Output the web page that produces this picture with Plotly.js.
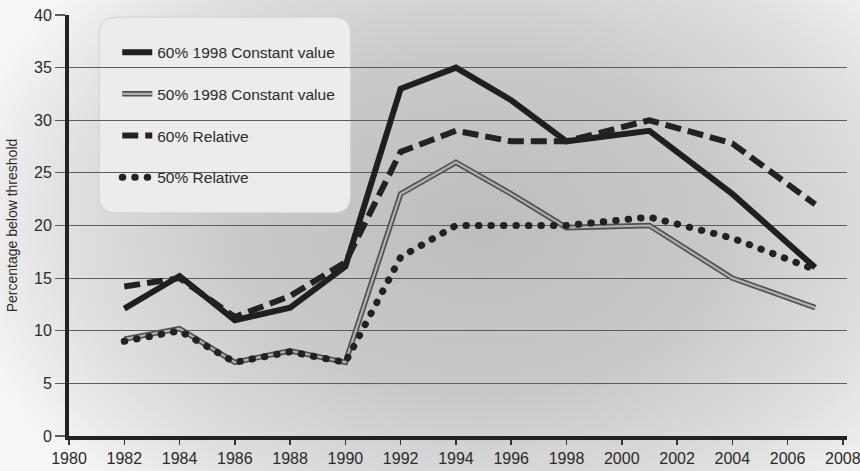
<!DOCTYPE html>
<html>
<head>
<meta charset="utf-8">
<script src="https://cdn.plot.ly/plotly-3.0.1.min.js"></script>
<style>
  html, body { margin: 0; padding: 0; }
  #chart {
    width: 860px; height: 471px;
    background: radial-gradient(ellipse 62% 80% at 56% 48%, #bdbdbd 0%, #c9c9c9 45%, #e0e0e0 78%, #f6f6f6 100%);
  }
</style>
</head>
<body>
<div id="chart"></div>
<script>
// ---- data ----
const years = [1982, 1984, 1986, 1988, 1990, 1992, 1994, 1996, 1998, 2001, 2004, 2007];
const const60 = [12.1, 15.2, 11.0, 12.2, 16.1, 33.0, 35.0, 31.9, 28.0, 29.0, 23.0, 16.0];
const const50 = [9.2, 10.2, 7.0, 8.1, 7.0, 23.0, 26.0, 23.0, 19.8, 20.0, 15.0, 12.2];
const rel60   = [14.2, 15.0, 11.3, 13.3, 16.5, 27.0, 29.0, 28.0, 28.0, 30.0, 27.8, 22.0];
const rel50   = [9.0, 10.0, 7.0, 8.0, 7.0, 17.0, 20.0, 20.0, 20.0, 20.8, 18.8, 15.8];
const seriesNames = ['60% 1998 Constant value', '50% 1998 Constant value', '60% Relative', '50% Relative'];
const xTicks = [1980, 1982, 1984, 1986, 1988, 1990, 1992, 1994, 1996, 1998, 2000, 2002, 2004, 2006, 2008];
const yTicks = [0, 5, 10, 15, 20, 25, 30, 35, 40];
const yTitle = 'Percentage below threshold';

const FONT = "'Liberation Sans', Arial, sans-serif";
const TXT = '#2b2b2b';

const traces = [
  { x: years, y: const60, name: seriesNames[0], mode: 'lines', legendgroup: 'a',
    line: { color: '#1f1f1f', width: 6 } },
  { x: years, y: const50, name: seriesNames[1], mode: 'lines', legendgroup: 'b', showlegend: false,
    line: { color: '#505050', width: 5.5 } },
  { x: years, y: const50, name: seriesNames[1], mode: 'lines', legendgroup: 'b',
    line: { color: '#b0b0b0', width: 2.2 } },
  { x: years, y: rel60, name: seriesNames[2], mode: 'lines', legendgroup: 'c',
    line: { color: '#222222', width: 6, dash: '16px,7px' } },
  { x: years, y: rel50, name: seriesNames[3], mode: 'lines', legendgroup: 'd',
    line: { color: '#222222', width: 7, dash: '0.5px,12px' } }
];

// rounded legend panel (paper coords)
function roundRect(x0, y0, x1, y1, rx, ry) {
  return `M${x0+rx},${y1} L${x1-rx},${y1} Q${x1},${y1} ${x1},${y1-ry} L${x1},${y0+ry} Q${x1},${y0} ${x1-rx},${y0} ` +
         `L${x0+rx},${y0} Q${x0},${y0} ${x0},${y0+ry} L${x0},${y1-ry} Q${x0},${y1} ${x0+rx},${y1} Z`;
}

const layout = {
  width: 860, height: 471,
  margin: { l: 69, r: 13, t: 15, b: 35 },
  paper_bgcolor: 'rgba(0,0,0,0)',
  plot_bgcolor: 'rgba(0,0,0,0)',
  font: { family: FONT, size: 16, color: TXT },
  showlegend: true,
  legend: {
    x: 0.062, y: 0.951, xanchor: 'left', yanchor: 'top',
    bgcolor: 'rgba(0,0,0,0)', borderwidth: 0,
    traceorder: 'grouped', tracegroupgap: 18.5,
    font: { family: FONT, size: 15.5, color: TXT }
  },
  xaxis: {
    range: [1980, 2008.15], tickvals: xTicks, ticktext: xTicks.map(String),
    showgrid: false, zeroline: false,
    showline: true, linecolor: '#222', linewidth: 4,
    ticks: 'outside', ticklen: 5, tickwidth: 1.5, tickcolor: '#333',
    ticklabeloverflow: 'allow',
    tickfont: { family: FONT, size: 16, color: TXT }
  },
  yaxis: {
    range: [0, 40], tickvals: yTicks,
    showgrid: true, gridcolor: '#5c5c5c', gridwidth: 1.2, zeroline: false,
    showline: true, linecolor: '#222', linewidth: 4,
    ticks: 'outside', ticklen: 10, tickwidth: 1.2, tickcolor: '#5c5c5c',
    tickfont: { family: FONT, size: 16, color: TXT },
    title: { text: yTitle, font: { family: FONT, size: 14, color: TXT }, standoff: 14 }
  },
  shapes: [
    { type: 'path', xref: 'paper', yref: 'paper', layer: 'between',
      path: roundRect(0.0388, 0.53, 0.362, 0.995, 0.022, 0.04),
      fillcolor: '#ececec', line: { color: '#d2d2d2', width: 1 } }
  ]
};

Plotly.newPlot('chart', traces, layout, { displayModeBar: false, staticPlot: true }).then(() => {
  document.querySelectorAll('.scatterlayer .trace').forEach((t, i) => {
    if (i === 4) t.querySelectorAll('path.js-line').forEach(p => p.style.strokeLinecap = 'round');
  });
  document.querySelectorAll('.legend .traces').forEach(t => {
    const txt = t.textContent;
    if (txt.indexOf('50% Relative') >= 0) t.querySelectorAll('path').forEach(p => p.style.strokeLinecap = 'round');
    if (txt.indexOf('50% 1998') >= 0) {
      // give the legend sample the same dark outline as the plotted double line
      const p = t.querySelector('path.js-line');
      if (p) {
        const outline = p.cloneNode(true);
        outline.style.stroke = '#505050';
        outline.style.strokeWidth = '5.5px';
        p.parentNode.insertBefore(outline, p);
      }
    }
  });
});
</script>
</body>
</html>
